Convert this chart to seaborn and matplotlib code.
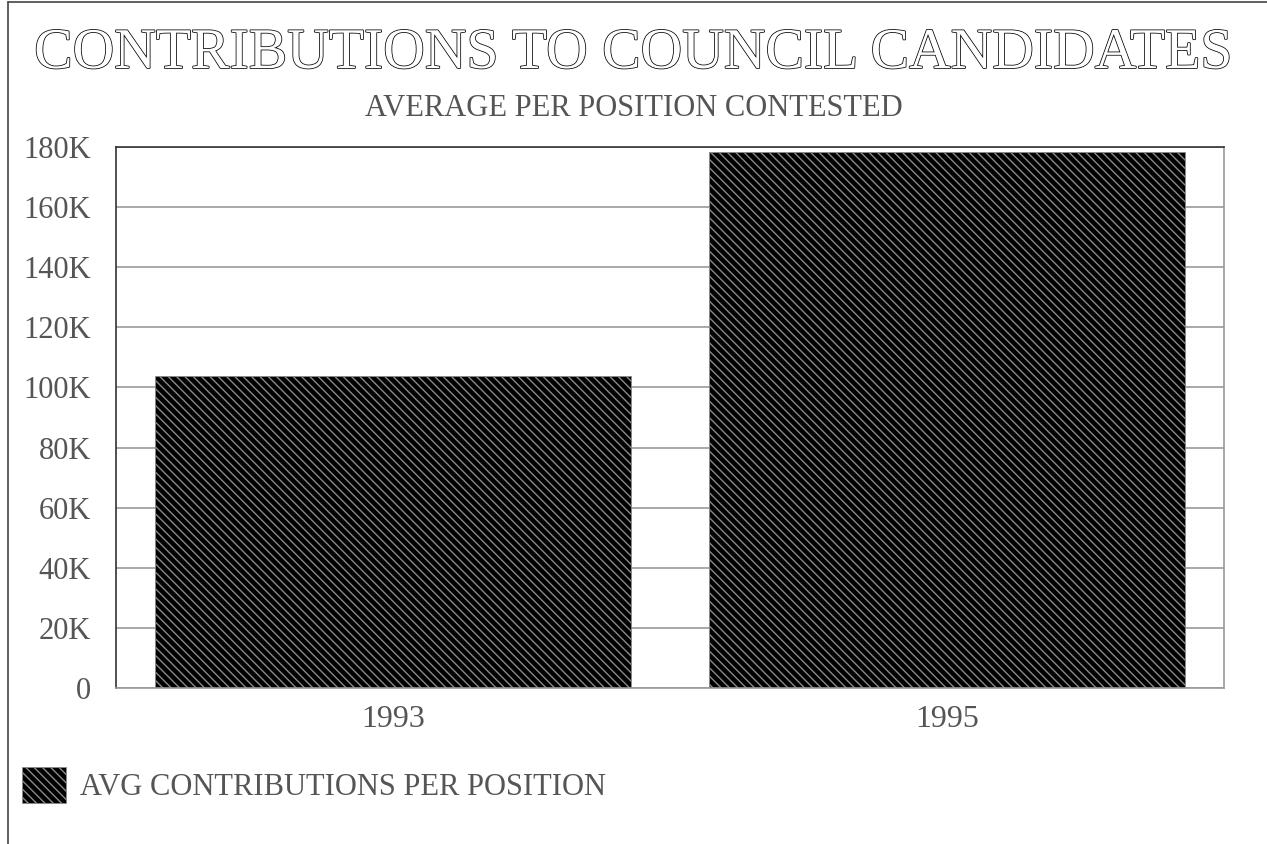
import matplotlib
matplotlib.use("Agg")
import matplotlib.pyplot as plt
import matplotlib.patheffects as pe
from matplotlib.lines import Line2D
from matplotlib.ticker import FuncFormatter
import seaborn as sns
import pandas as pd

# data
years = ["1993", "1995"]
avg_contrib = [103800, 178500]
series_name = "AVG CONTRIBUTIONS PER POSITION"
y_ticks = [0, 20000, 40000, 60000, 80000, 100000, 120000, 140000, 160000, 180000]

title = "CONTRIBUTIONS TO COUNCIL CANDIDATES"
subtitle = "AVERAGE PER POSITION CONTESTED"

sns.set_style("white")
plt.rcParams["font.family"] = ["Liberation Serif", "DejaVu Serif"]
plt.rcParams["hatch.linewidth"] = 1.0

df = pd.DataFrame({"year": years, "value": avg_contrib})

fig = plt.figure(figsize=(12.67, 8.44), dpi=100)
ax = fig.add_axes([116 / 1267, 1 - 688 / 844, (1224 - 116) / 1267, (688 - 147) / 844])

sns.barplot(data=df, x="year", y="value", color="black", width=0.86,
            edgecolor="#8a8a8a", linewidth=0.6, saturation=1, ax=ax,
            label=series_name)
for bar in ax.patches:
    bar.set_hatch("\\\\\\\\")
    bar.set_facecolor("black")

# axes styling
ax.set_ylim(0, 180000)
ax.set_yticks(y_ticks)
ax.yaxis.set_major_formatter(FuncFormatter(lambda v, p: "0" if v == 0 else f"{int(v / 1000)}K"))
ax.yaxis.grid(True, color="#9a9a9a", linewidth=1.2)
ax.set_axisbelow(True)
ax.set_xlabel("")
ax.set_ylabel("")
ax.tick_params(axis="both", length=0, labelcolor="#555555")
ax.tick_params(axis="y", pad=18, labelsize=22)
ax.tick_params(axis="x", pad=12, labelsize=23)
for side in ["left", "top"]:
    ax.spines[side].set_color("#333333")
    ax.spines[side].set_linewidth(1.2)
for side in ["right", "bottom"]:
    ax.spines[side].set_color("#9a9a9a")
    ax.spines[side].set_linewidth(1.2)

# titles
fig.text(0.5, 1 - 54 / 844, title, ha="center", va="center", fontsize=41.5,
         color="white",
         path_effects=[pe.Stroke(linewidth=1.1, foreground="black"), pe.Normal()])
fig.text(0.5, 1 - 109 / 844, subtitle, ha="center", va="center", fontsize=22,
         color="#555555")

# legend
handles, labels = ax.get_legend_handles_labels()
leg = fig.legend(handles, labels, loc="center left",
                 bbox_to_anchor=(22 / 1267, 1 - 785 / 844), frameon=False,
                 borderpad=0, borderaxespad=0,
                 fontsize=22, handlelength=1.44, handleheight=1.4,
                 handletextpad=0.45)
for t in leg.get_texts():
    t.set_color("#555555")
if ax.get_legend() is not None:
    ax.get_legend().remove()

# page border (left and top)
fig.add_artist(Line2D([8 / 1267, 8 / 1267], [0, 1 - 2 / 844], color="#444444", linewidth=1.2))
fig.add_artist(Line2D([8 / 1267, 1], [1 - 2 / 844, 1 - 2 / 844], color="#444444", linewidth=1.2))

fig.savefig("out.png", dpi=100)
